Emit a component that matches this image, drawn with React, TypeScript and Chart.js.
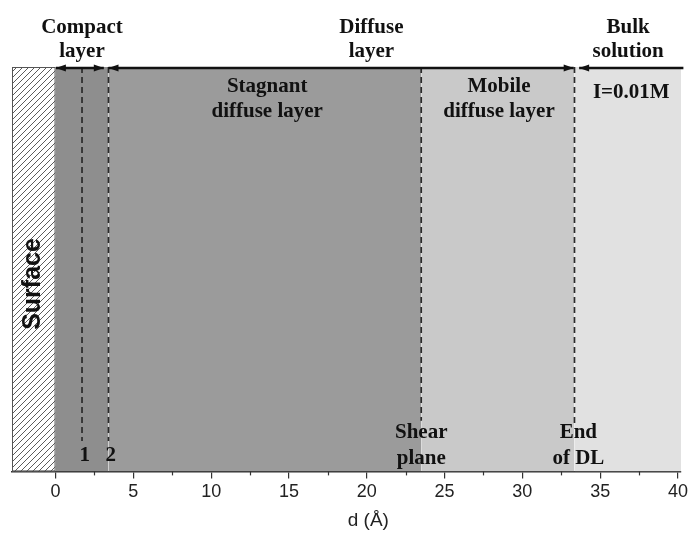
import React, { useEffect, useRef } from "react";
import { Chart, registerables } from "chart.js";
Chart.register(...registerables);

const X_MIN = -2.8;
const X_MAX = 40.2;
const majorTicks = [0, 5, 10, 15, 20, 25, 30, 35, 40];
const minorTicks = [2.5, 7.5, 12.5, 17.5, 22.5, 27.5, 32.5, 37.5];

const regionNames = ["Surface", "Compact layer", "Stagnant diffuse layer", "Mobile diffuse layer", "Bulk solution"];
const regionStart = [-2.8, 0, 3.4, 23.5, 33.35];
const regionEnd = [0, 3.4, 23.5, 33.35, 40.2];
const regionColors = ["hatch", "#8e8e8e", "#9b9b9b", "#c9c9c9", "#e1e1e1"];

const dashedX = [1.7, 3.4, 23.5, 33.35];
const dashedBottom = [0.075, 0.075, 0.125, 0.115];

const arrowFrom = [0.02, 3.4, 33.65];
const arrowTo = [3.1, 33.3, 40.35];
const arrowHeadStart = [true, true, true];
const arrowHeadEnd = [true, true, false];

const topLabels = [["Compact", "layer"], ["Diffuse", "layer"], ["Bulk", "solution"]];
const topLabelX = [1.7, 20.3, 36.8];
const innerLabels = [["Stagnant", "diffuse layer"], ["Mobile", "diffuse layer"], ["I=0.01M"]];
const innerLabelX = [13.6, 28.5, 37.0];
const bottomLabels = [["1"], ["2"], ["Shear", "plane"], ["End", "of DL"]];
const bottomLabelX = [1.88, 3.55, 23.5, 33.6];
const surfaceLabel = "Surface";
const surfaceX = -1.45;
const axisTitle = "d (Å)";
const axisTitleX = 20.1;

const SERIF = "'Liberation Serif', 'Times New Roman', serif";
const SANS = "'Liberation Sans', Arial, sans-serif";

function makeHatch(): CanvasPattern | string {
  const pc = document.createElement("canvas");
  pc.width = 6;
  pc.height = 6;
  const g = pc.getContext("2d");
  if (!g) return "#fff";
  g.fillStyle = "#ffffff";
  g.fillRect(0, 0, 6, 6);
  g.strokeStyle = "#4a4a4a";
  g.lineWidth = 0.9;
  g.beginPath();
  g.moveTo(0, 6);
  g.lineTo(6, 0);
  g.moveTo(-1, 1);
  g.lineTo(1, -1);
  g.moveTo(5, 7);
  g.lineTo(7, 5);
  g.stroke();
  const p = g.createPattern(pc, "repeat");
  return p || "#fff";
}

export default function App() {
  const ref = useRef<HTMLCanvasElement | null>(null);
  useEffect(() => {
    document.body.style.margin = "0";
    const canvas = ref.current;
    if (!canvas) return;
    const hatch = makeHatch();

    const datasets: any[] = [];
    regionNames.forEach((name, i) => {
      datasets.push({
        label: name,
        data: [
          { x: regionStart[i], y: 1 },
          { x: regionEnd[i], y: 1 },
        ],
        showLine: true,
        fill: "origin",
        backgroundColor: regionColors[i] === "hatch" ? hatch : regionColors[i],
        borderWidth: 0,
        borderColor: "rgba(0,0,0,0)",
        pointRadius: 0,
        order: 2,
      });
    });
    dashedX.forEach((xv, i) => {
      datasets.push({
        label: "dash" + i,
        data: [
          { x: xv, y: 1 },
          { x: xv, y: dashedBottom[i] },
        ],
        showLine: true,
        fill: false,
        borderColor: "#2a2a2a",
        borderWidth: 1.7,
        borderDash: [6, 4],
        pointRadius: 0,
        order: 1,
      });
    });

    const overlay = {
      id: "overlay",
      afterDatasetsDraw(chart: any) {
        const { ctx, chartArea, scales } = chart;
        const xs = scales.x;
        const top = chartArea.top;
        const bottom = chartArea.bottom;
        ctx.save();
        const sx0 = xs.getPixelForValue(regionStart[0]);
        const sx1 = xs.getPixelForValue(regionEnd[0]);
        ctx.strokeStyle = "#555";
        ctx.lineWidth = 1;
        ctx.strokeRect(sx0 + 0.5, top + 0.5, sx1 - sx0 - 1, bottom - top - 1);
        ctx.strokeStyle = "#333";
        ctx.lineWidth = 1.2;
        minorTicks.forEach((v) => {
          const px = Math.round(xs.getPixelForValue(v)) + 0.5;
          ctx.beginPath();
          ctx.moveTo(px, bottom);
          ctx.lineTo(px, bottom + 4);
          ctx.stroke();
        });
        const ay = top + 1;
        ctx.strokeStyle = "#111";
        ctx.fillStyle = "#111";
        ctx.lineWidth = 2.4;
        arrowFrom.forEach((f, i) => {
          const x0 = xs.getPixelForValue(f);
          const x1 = xs.getPixelForValue(arrowTo[i]);
          ctx.beginPath();
          ctx.moveTo(x0, ay);
          ctx.lineTo(x1, ay);
          ctx.stroke();
          const head = (tip: number, dir: number) => {
            ctx.beginPath();
            ctx.moveTo(tip, ay);
            ctx.lineTo(tip - dir * 10, ay - 3.5);
            ctx.lineTo(tip - dir * 10, ay + 3.5);
            ctx.closePath();
            ctx.fill();
          };
          if (arrowHeadStart[i]) head(x0, -1);
          if (arrowHeadEnd[i]) head(x1, 1);
        });
        ctx.fillStyle = "#111";
        ctx.textAlign = "center";
        ctx.textBaseline = "middle";
        ctx.font = "bold 21px " + SERIF;
        const drawLines = (lines: string[], xv: number, y0: number, lh: number) => {
          const px = xs.getPixelForValue(xv);
          lines.forEach((t, k) => ctx.fillText(t, px, y0 + k * lh));
        };
        topLabels.forEach((l, i) => drawLines(l, topLabelX[i], 28, 24));
        innerLabels.forEach((l, i) => drawLines(l, innerLabelX[i], i === 2 ? 93 : 87, 25));
        bottomLabels.forEach((l, i) => drawLines(l, bottomLabelX[i], l.length === 1 ? 456 : 433, 26));
        ctx.save();
        ctx.translate(xs.getPixelForValue(surfaceX), 284);
        ctx.rotate(-Math.PI / 2);
        ctx.font = "bold 25px " + SANS;
        ctx.fillText(surfaceLabel, 0, 0);
        ctx.restore();
        ctx.font = "19px " + SANS;
        ctx.fillStyle = "#222";
        ctx.fillText(axisTitle, xs.getPixelForValue(axisTitleX), 521);
        ctx.restore();
      },
    };

    const chart = new Chart(canvas, {
      type: "scatter",
      data: { datasets },
      options: {
        responsive: false,
        animation: false,
        events: [],
        layout: { padding: { top: 67, left: 12, right: 8, bottom: 28 } },
        plugins: { legend: { display: false }, tooltip: { enabled: false }, title: { display: false } },
        scales: {
          x: {
            type: "linear",
            min: X_MIN,
            max: X_MAX,
            z: 1,
            afterBuildTicks: (axis: any) => {
              axis.ticks = majorTicks.map((v) => ({ value: v }));
            },
            ticks: {
              autoSkip: false,
              maxRotation: 0,
              color: "#222",
              padding: 3,
              font: { family: SANS, size: 18 },
              callback: (v: any) => String(v),
            },
            grid: { drawOnChartArea: false, drawTicks: true, tickLength: 7, color: "#333", lineWidth: 1.2 },
            border: { display: true, color: "#333", width: 1.5 },
          },
          y: { display: false, min: 0, max: 1 },
        },
      },
      plugins: [overlay],
    });
    return () => chart.destroy();
  }, []);
  return (
    <div style={{ position: "absolute", left: 0, top: 0, width: 691, height: 534 }}>
      <canvas ref={ref} width={691} height={534} />
    </div>
  );
}
